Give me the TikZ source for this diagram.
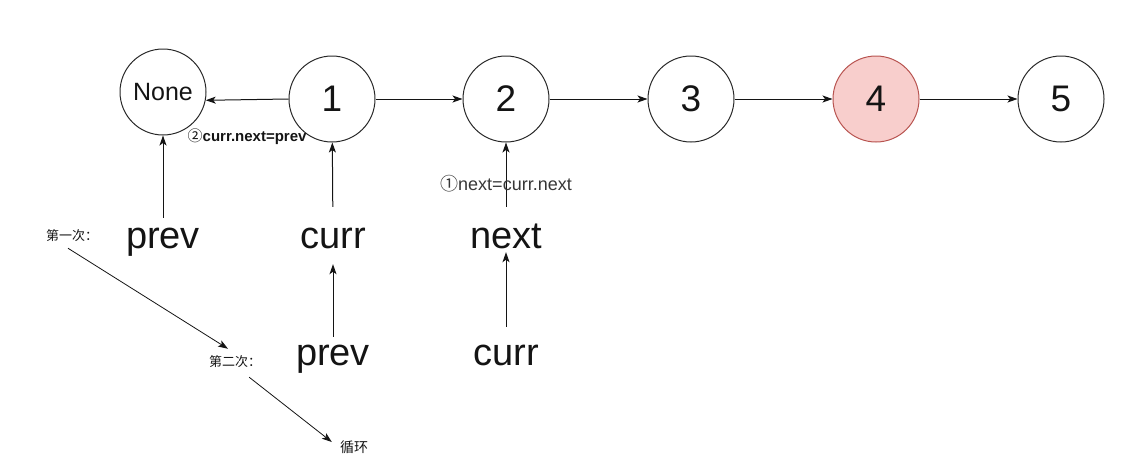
\documentclass[tikz,border=0pt]{standalone}
\usepackage{fontspec}
\usepackage{xcolor}
\usepackage{tikz}
\usetikzlibrary{arrows.meta}
\setmainfont{Liberation Sans}
\newfontfamily\cjk{Noto Sans CJK SC}
\definecolor{listline}{RGB}{40,40,40}
\definecolor{listtext}{RGB}{20,20,20}
\definecolor{hotfill}{RGB}{248,206,204}
\definecolor{hotline}{RGB}{184,84,80}
\tikzset{
  listnode/.style={circle,draw=listline,line width=1pt,minimum size=86pt,inner sep=0pt,
    text=listtext,font=\fontsize{37}{40}\selectfont},
  ptrtext/.style={inner sep=0pt,anchor=base,text height=28pt,text depth=4pt,
    text=listtext,font=\fontsize{38}{42}\selectfont},
  steptext/.style={inner sep=1pt,text=listtext,font=\cjk\fontsize{13}{15}\selectfont},
  link/.style={draw=listtext,line width=1pt,-{Stealth[length=10pt,width=7pt,inset=2.5pt]}}
}

\begin{document}
\begin{tikzpicture}[x=1pt,y=-1pt]
  \useasboundingbox (0,0) rectangle (1134,466);
  % the list
  \node[listnode,font=\fontsize{25}{28}\selectfont] (none) at (163,92) {None};
  \node[listnode] (n1) at (332,99) {1};
  \node[listnode] (n2) at (506,99) {2};
  \node[listnode] (n3) at (691,99) {3};
  \node[listnode,fill=hotfill,draw=hotline] (n4) at (876,99) {4};
  \node[listnode] (n5) at (1061,99) {5};
  \draw[link] (n1.west) -- (none.-11)
    node[midway,yshift=-37pt,font=\bfseries\fontsize{15}{17}\selectfont,text=listtext]
    {{\cjk\mdseries ②}curr.next=prev};
  \draw[link] (n1) -- (n2);
  \draw[link] (n2) -- (n3);
  \draw[link] (n3) -- (n4);
  \draw[link] (n4) -- (n5);
  % pointers
  \node[ptrtext] (prevA) at (163,248) {prev};
  \node[ptrtext] (currA) at (333,248) {curr};
  \node[ptrtext] (nextA) at (506,248) {next};
  \node[ptrtext] (prevB) at (333,365) {prev};
  \node[ptrtext] (currB) at (506,365) {curr};
  \draw[link,shorten <=2pt] (prevA) -- (none);
  \draw[link,shorten <=13pt] (currA) -- (n1);
  \draw[link,shorten <=13pt] (nextA) -- (n2)
    node[pos=0.47,font=\fontsize{18}{20}\selectfont,text=listtext!85] {{\cjk ①}next=curr.next};
  \draw[link,shorten >=12pt] (prevB) -- (currA);
  \draw[link,shorten <=10pt] (currB) -- (nextA);
  % rounds
  \node[steptext] (first) at (72,236) {第一次：};
  \node[steptext] (second) at (235,362) {第二次：};
  \node[steptext,font=\cjk\fontsize{14}{16}\selectfont] (again) at (354,447) {循环};
  \draw[link,line width=0.8pt] ([xshift=-4pt,yshift=-5pt]first.south) -- ([xshift=-7pt,yshift=6pt]second.north);
  \draw[link,line width=0.8pt] ([xshift=-13pt,yshift=-8pt]second.south east) -- ([xshift=-7pt,yshift=5pt]again.west);
\end{tikzpicture}
\end{document}
